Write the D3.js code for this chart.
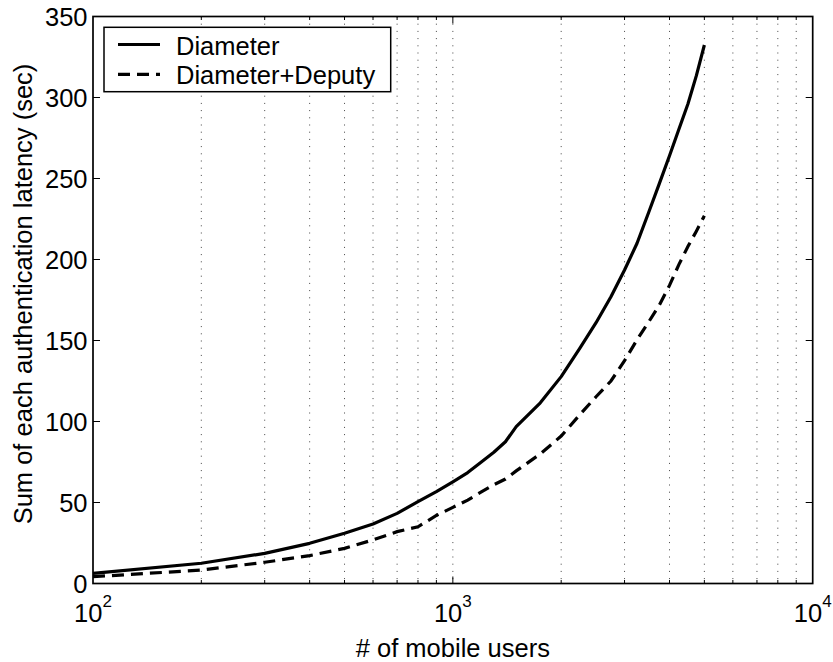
<!DOCTYPE html>
<html>
<head>
<meta charset="utf-8">
<script src="https://cdn.jsdelivr.net/npm/d3@7"></script>
<style>
  html, body { margin: 0; padding: 0; background: #fff; }
  svg { display: block; font-family: "Liberation Sans", Arial, Helvetica, sans-serif; }
</style>
</head>
<body>
<svg id="chart" width="833" height="662"></svg>
<script>
// Number of mobile users (x, log scale)
const users = [100, 200, 300, 400, 500, 600, 700, 800, 900, 1000,
               1100, 1200, 1300, 1400, 1500, 1750, 2000, 2250, 2500, 2750,
               3000, 3250, 3500, 3750, 4000, 4250, 4500, 4750, 5000];

// Sum of each authentication latency (sec)
const diameter = [6.3, 12.5, 18.6, 24.8, 31, 36.7, 43.3, 50.5, 56.7, 62.8,
                  68.5, 75, 81, 87.5, 96.8, 111.5, 127.7, 145, 161, 177,
                  193.5, 210, 229, 247, 264, 280.5, 296, 313.5, 332.4];
const diameterDeputy = [4.2, 8.3, 13.1, 17.2, 21.7, 26.9, 32, 35, 42, 47,
                        51.5, 56.5, 61, 64.5, 69.5, 80, 91, 104, 115.3, 125,
                        137.5, 150.5, 161.4, 172, 184, 197, 208, 217.5, 227];

const seriesNames = ["Diameter", "Diameter+Deputy"];
const yTickValues = [0, 50, 100, 150, 200, 250, 300, 350];
const xMajorTicks = [100, 1000, 10000];
const xMajorExponents = ["2", "3", "4"];

const xLabel = "# of mobile users";
const yLabel = "Sum of each authentication latency (sec)";

(function draw() {
  const svg = d3.select("#chart");
  const pL = 93, pR = 812.7, pT = 16.5, pB = 583.5;
  const FONT = 25.5;

  const x = d3.scaleLog().domain([100, 10000]).range([pL, pR]);
  const y = d3.scaleLinear().domain([0, 350]).range([pB, pT]);

  // dotted vertical grid at every log tick inside the box
  const innerTicks = x.ticks().filter(v => v > 100 && v < 10000);
  svg.append("g").selectAll("line").data(innerTicks).join("line")
    .attr("x1", d => x(d)).attr("x2", d => x(d))
    .attr("y1", pT).attr("y2", pB)
    .attr("stroke", "#444").attr("stroke-width", 1)
    .attr("stroke-dasharray", "1,6.2");

  // x ticks on bottom and top edges (inward)
  const xTicksG = svg.append("g");
  innerTicks.forEach(v => {
    const len = xMajorTicks.includes(v) ? 7 : 3.5;
    xTicksG.append("line").attr("x1", x(v)).attr("x2", x(v))
      .attr("y1", pB).attr("y2", pB - len).attr("stroke", "#000").attr("stroke-width", 1);
    xTicksG.append("line").attr("x1", x(v)).attr("x2", x(v))
      .attr("y1", pT).attr("y2", pT + len).attr("stroke", "#000").attr("stroke-width", 1);
  });

  // y ticks on left and right edges (inward)
  const yTicksG = svg.append("g");
  yTickValues.filter(v => v > 0 && v < 350).forEach(v => {
    yTicksG.append("line").attr("x1", pL).attr("x2", pL + 7)
      .attr("y1", y(v)).attr("y2", y(v)).attr("stroke", "#000").attr("stroke-width", 1);
    yTicksG.append("line").attr("x1", pR).attr("x2", pR - 7)
      .attr("y1", y(v)).attr("y2", y(v)).attr("stroke", "#000").attr("stroke-width", 1);
  });

  // data lines
  const line = d3.line().x(d => x(d[0])).y(d => y(d[1]));
  svg.append("path")
    .datum(users.map((u, i) => [u, diameter[i]]))
    .attr("d", line).attr("fill", "none")
    .attr("stroke", "#000").attr("stroke-width", 3.2).attr("stroke-linejoin", "round");
  svg.append("path")
    .datum(users.map((u, i) => [u, diameterDeputy[i]]))
    .attr("d", line).attr("fill", "none")
    .attr("stroke", "#000").attr("stroke-width", 3.2)
    .attr("stroke-dasharray", "12,7");

  // axes box
  svg.append("rect")
    .attr("x", pL).attr("y", pT)
    .attr("width", pR - pL).attr("height", pB - pT)
    .attr("fill", "none").attr("stroke", "#000").attr("stroke-width", 1.7);

  // y tick labels
  svg.append("g").selectAll("text").data(yTickValues).join("text")
    .attr("x", pL - 5.5).attr("y", d => y(d))
    .attr("text-anchor", "end").attr("dominant-baseline", "central")
    .attr("font-size", FONT).text(d => d);

  // x tick labels as powers of ten
  const xl = svg.append("g");
  xMajorTicks.forEach((v, i) => {
    const t = xl.append("text")
      .attr("x", x(v)).attr("y", 621.5)
      .attr("text-anchor", "middle").attr("font-size", FONT);
    t.append("tspan").text("10");
    t.append("tspan").attr("dy", -15).attr("font-size", 17).text(xMajorExponents[i]);
  });

  // axis titles
  svg.append("text")
    .attr("x", (pL + pR) / 2).attr("y", 656.5)
    .attr("text-anchor", "middle").attr("font-size", FONT)
    .text(xLabel);
  svg.append("text")
    .attr("transform", `translate(32,294) rotate(-90)`)
    .attr("text-anchor", "middle").attr("font-size", FONT)
    .text(yLabel);

  // legend
  const lg = svg.append("g");
  lg.append("rect")
    .attr("x", 104).attr("y", 27.3).attr("width", 286.7).attr("height", 64.4)
    .attr("fill", "#fff").attr("stroke", "#000").attr("stroke-width", 1.5);
  const rows = [44.5, 74.3];
  seriesNames.forEach((name, i) => {
    lg.append("line")
      .attr("x1", 118).attr("x2", 160).attr("y1", rows[i]).attr("y2", rows[i])
      .attr("stroke", "#000").attr("stroke-width", 3.2)
      .attr("stroke-dasharray", i === 1 ? "12,7" : null);
    lg.append("text")
      .attr("x", 176).attr("y", rows[i] + 1).attr("dominant-baseline", "central")
      .attr("font-size", FONT).text(name);
  });
})();
</script>
</body>
</html>
